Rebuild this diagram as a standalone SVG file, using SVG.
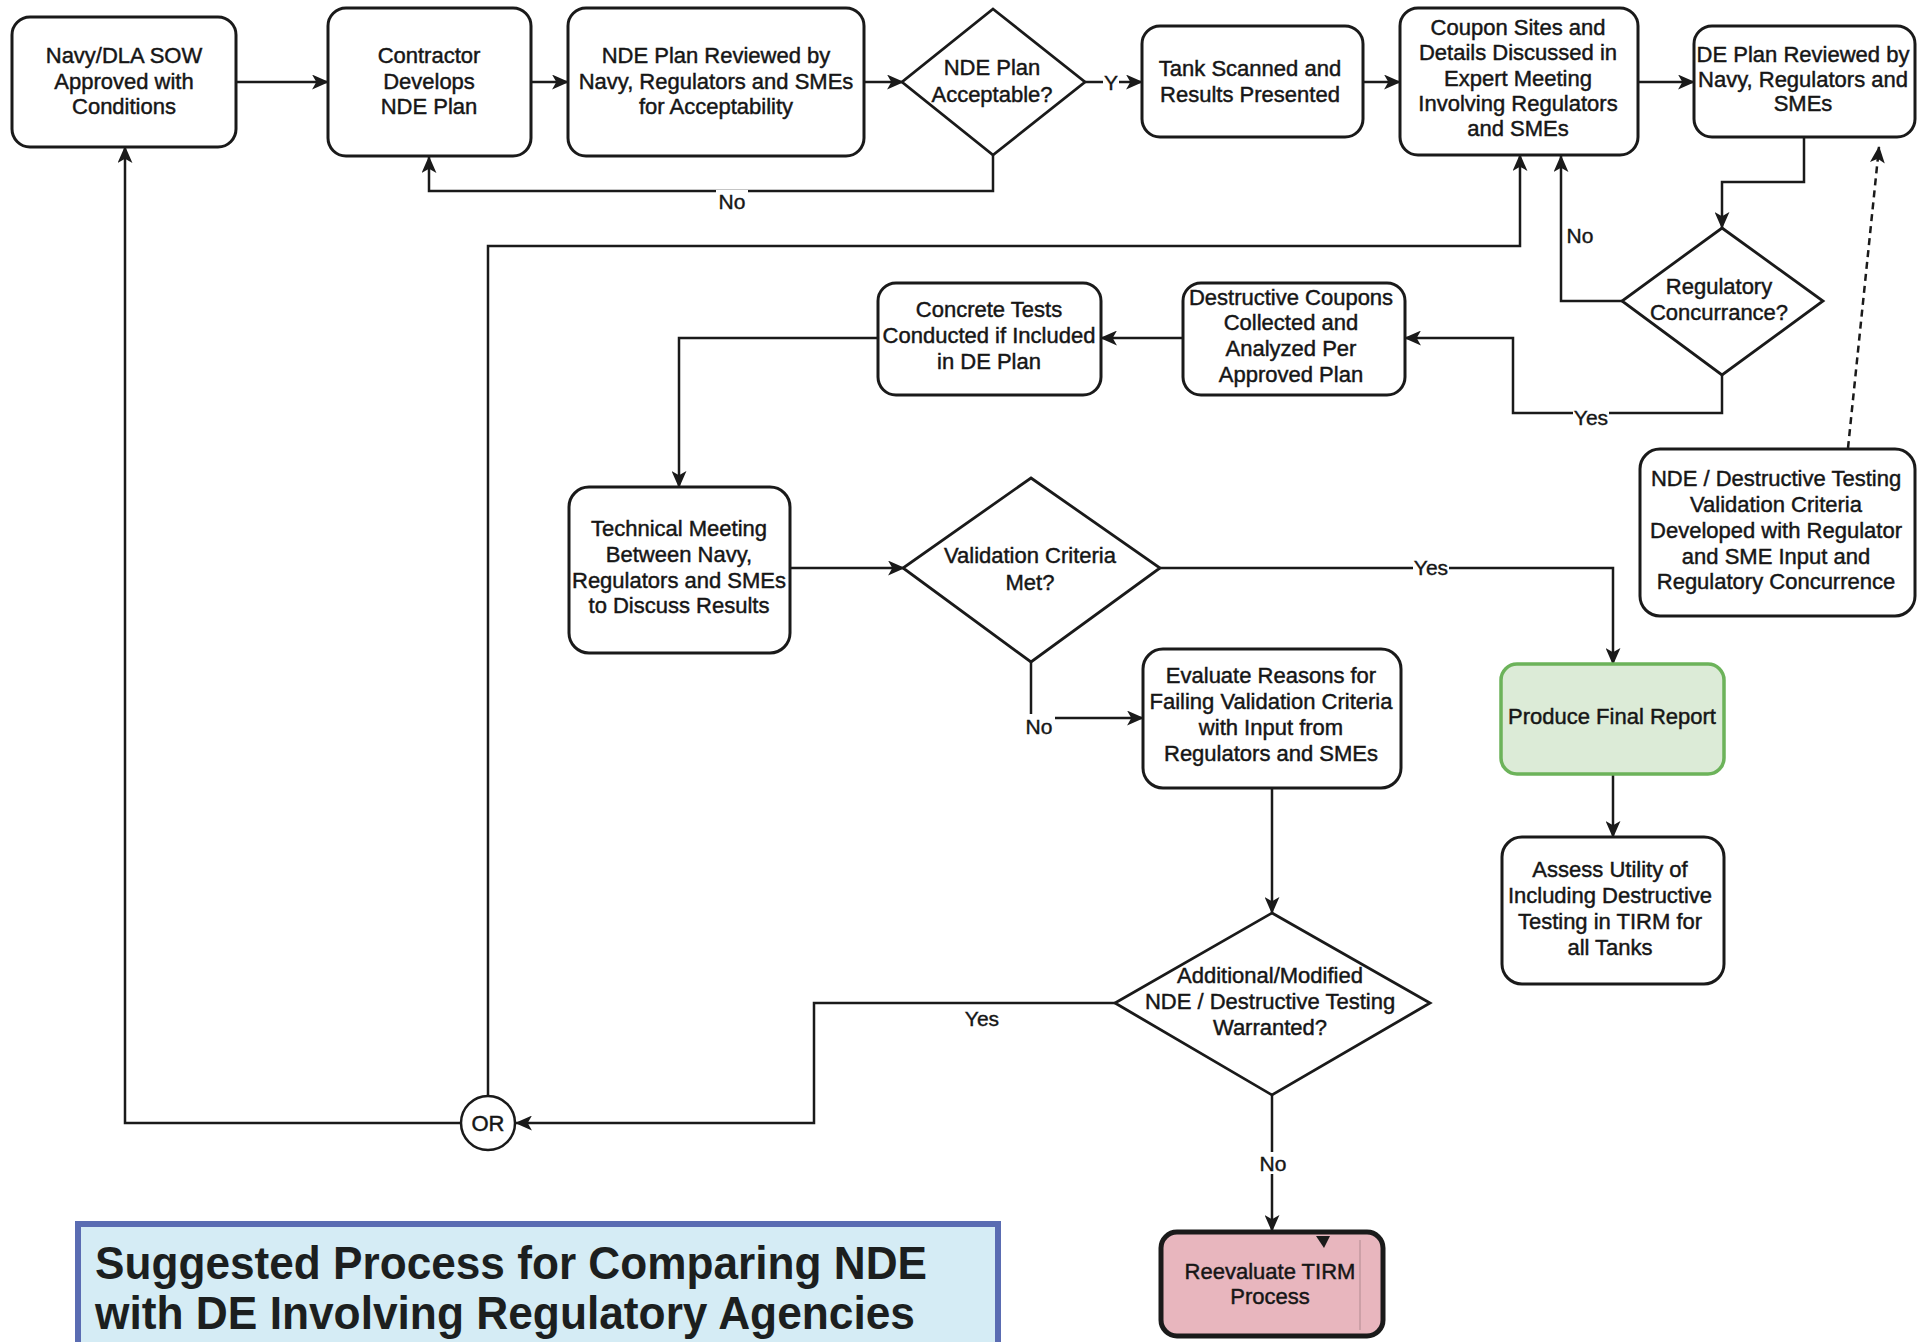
<svg xmlns="http://www.w3.org/2000/svg" width="1925" height="1342" viewBox="0 0 1925 1342">
<defs>
<style>
.box{fill:#fff;stroke:#1a1a1a;stroke-width:3}
.dia{fill:#fff;stroke:#1a1a1a;stroke-width:2.8}
.t{font-family:"Liberation Sans",Arial,Helvetica,sans-serif;font-size:22px;fill:#161616;stroke:#161616;stroke-width:0.45px;text-anchor:middle}
.lbl{font-family:"Liberation Sans",Arial,Helvetica,sans-serif;font-size:21px;fill:#161616;stroke:#161616;stroke-width:0.4px;text-anchor:middle}
.ttl{font-family:"Liberation Sans",Arial,Helvetica,sans-serif;font-size:47px;font-weight:bold;fill:#1c1f1f}
.c{fill:none;stroke:#1a1a1a;stroke-width:2.5}
.bg{fill:#fff}
</style>
<marker id="arr" viewBox="0 0 16 14" refX="15" refY="7" markerWidth="17" markerHeight="15" markerUnits="userSpaceOnUse" orient="auto">
<path d="M0,0 L16,7 L0,14 L4,7 z" fill="#1a1a1a"/>
</marker>
</defs>
<rect width="1925" height="1342" fill="#fff"/>

<g id="connectors">
<path class="c" d="M236,82 H328" marker-end="url(#arr)"/>
<path class="c" d="M531,82 H568" marker-end="url(#arr)"/>
<path class="c" d="M864,82 H903" marker-end="url(#arr)"/>
<path class="c" d="M1085,82 H1142" marker-end="url(#arr)"/>
<path class="c" d="M993,155 V191 H429 V157" marker-end="url(#arr)"/>
<path class="c" d="M1363,82 H1400" marker-end="url(#arr)"/>
<path class="c" d="M1638,82 H1694" marker-end="url(#arr)"/>
<path class="c" d="M1804,137 V182 H1722 V228" marker-end="url(#arr)"/>
<path class="c" d="M1622,301 H1561 V156" marker-end="url(#arr)"/>
<path class="c" d="M1722,375 V413 H1513 V338 H1405" marker-end="url(#arr)"/>
<path class="c" d="M1183,338 H1101" marker-end="url(#arr)"/>
<path class="c" d="M878,338 H679 V487" marker-end="url(#arr)"/>
<path class="c" d="M790,568 H904" marker-end="url(#arr)"/>
<path class="c" d="M1160,568 H1613 V664" marker-end="url(#arr)"/>
<path class="c" d="M1031,662 V718 H1143" marker-end="url(#arr)"/>
<path class="c" d="M1272,788 V913" marker-end="url(#arr)"/>
<path class="c" d="M1613,774 V837" marker-end="url(#arr)"/>
<path class="c" d="M1115,1003 H814 V1123 H516" marker-end="url(#arr)"/>
<path class="c" d="M1272,1095 V1231" marker-end="url(#arr)"/>
<path class="c" d="M461,1123 H125 V147" marker-end="url(#arr)"/>
<path class="c" d="M488,1096 V246 H1520 V155" marker-end="url(#arr)"/>
<path class="c" d="M1848,448 L1879,147" stroke-dasharray="7,5" stroke-width="3" marker-end="url(#arr)"/>
<rect class="bg" x="716" y="190" width="32" height="22"/>
<text class="lbl" x="732" y="209">No</text>
<rect class="bg" x="1103" y="72" width="16" height="20"/>
<text class="lbl" x="1111" y="90">Y</text>
<text class="lbl" x="1580" y="243">No</text>
<rect class="bg" x="1573" y="406" width="36" height="22"/>
<text class="lbl" x="1591" y="425">Yes</text>
<rect class="bg" x="1413" y="557" width="36" height="20"/>
<text class="lbl" x="1431" y="575">Yes</text>
<rect class="bg" x="1023" y="714" width="32" height="24"/>
<text class="lbl" x="1039" y="734">No</text>
<text class="lbl" x="982" y="1026">Yes</text>
<rect class="bg" x="1257" y="1152" width="32" height="22"/>
<text class="lbl" x="1273" y="1171">No</text>
</g>

<g id="n-sow">
<rect class="box" x="12" y="17" width="224" height="130" rx="18" stroke-width="3.5"/>
<text class="t"><tspan x="124" y="63">Navy/DLA SOW</tspan><tspan x="124" y="89">Approved with</tspan><tspan x="124" y="114">Conditions</tspan></text>
</g>
<g id="n-contractor">
<rect class="box" x="328" y="8" width="203" height="148" rx="18"/>
<text class="t"><tspan x="429" y="63">Contractor</tspan><tspan x="429" y="89">Develops</tspan><tspan x="429" y="114">NDE Plan</tspan></text>
</g>
<g id="n-ndereview">
<rect class="box" x="568" y="8" width="296" height="148" rx="18"/>
<text class="t"><tspan x="716" y="63">NDE Plan Reviewed by</tspan><tspan x="716" y="89">Navy, Regulators and SMEs</tspan><tspan x="716" y="114">for Acceptability</tspan></text>
</g>
<g id="n-ndeaccept">
<polygon class="dia" points="993,9 1085,82 993,155 902,82"/>
<text class="t"><tspan x="992" y="75">NDE Plan</tspan><tspan x="992" y="102">Acceptable?</tspan></text>
</g>
<g id="n-tank">
<rect class="box" x="1142" y="26" width="221" height="111" rx="18"/>
<text class="t"><tspan x="1250" y="76">Tank Scanned and</tspan><tspan x="1250" y="102">Results Presented</tspan></text>
</g>
<g id="n-coupon">
<rect class="box" x="1400" y="8" width="238" height="147" rx="18"/>
<text class="t"><tspan x="1518" y="35">Coupon Sites and</tspan><tspan x="1518" y="60">Details Discussed in</tspan><tspan x="1518" y="86">Expert Meeting</tspan><tspan x="1518" y="111">Involving Regulators</tspan><tspan x="1518" y="136">and SMEs</tspan></text>
</g>
<g id="n-dereview">
<rect class="box" x="1694" y="26" width="221" height="111" rx="18"/>
<text class="t"><tspan x="1803" y="62">DE Plan Reviewed by</tspan><tspan x="1803" y="87">Navy, Regulators and</tspan><tspan x="1803" y="111">SMEs</tspan></text>
</g>
<g id="n-regconc">
<polygon class="dia" points="1722,228 1823,301 1722,375 1622,301"/>
<text class="t"><tspan x="1719" y="294">Regulatory</tspan><tspan x="1719" y="320">Concurrance?</tspan></text>
</g>
<g id="n-destcoupons">
<rect class="box" x="1183" y="283" width="222" height="112" rx="18"/>
<text class="t"><tspan x="1291" y="305">Destructive Coupons</tspan><tspan x="1291" y="330">Collected and</tspan><tspan x="1291" y="356">Analyzed Per</tspan><tspan x="1291" y="382">Approved Plan</tspan></text>
</g>
<g id="n-concrete">
<rect class="box" x="878" y="283" width="223" height="112" rx="18"/>
<text class="t"><tspan x="989" y="317">Concrete Tests</tspan><tspan x="989" y="343">Conducted if Included</tspan><tspan x="989" y="369">in DE Plan</tspan></text>
</g>
<g id="n-techmeeting">
<rect class="box" x="569" y="487" width="221" height="166" rx="20"/>
<text class="t"><tspan x="679" y="536">Technical Meeting</tspan><tspan x="679" y="562">Between Navy,</tspan><tspan x="679" y="588">Regulators and SMEs</tspan><tspan x="679" y="613">to Discuss Results</tspan></text>
</g>
<g id="n-valmet">
<polygon class="dia" points="1031,478 1160,568 1031,662 903,568"/>
<text class="t"><tspan x="1030" y="563">Validation Criteria</tspan><tspan x="1030" y="590">Met?</tspan></text>
</g>
<g id="n-valcrit">
<rect class="box" x="1640" y="449" width="275" height="167" rx="20"/>
<text class="t"><tspan x="1776" y="486">NDE / Destructive Testing</tspan><tspan x="1776" y="512">Validation Criteria</tspan><tspan x="1776" y="538">Developed with Regulator</tspan><tspan x="1776" y="564">and SME Input and</tspan><tspan x="1776" y="589">Regulatory Concurrence</tspan></text>
</g>
<g id="n-evaluate">
<rect class="box" x="1143" y="649" width="258" height="139" rx="20"/>
<text class="t"><tspan x="1271" y="683">Evaluate Reasons for</tspan><tspan x="1271" y="709">Failing Validation Criteria</tspan><tspan x="1271" y="735">with Input from</tspan><tspan x="1271" y="761">Regulators and SMEs</tspan></text>
</g>
<g id="n-final">
<rect x="1501" y="664" width="223" height="110" rx="16" fill="#dcebd7" stroke="#6cb35a" stroke-width="3.5"/>
<text class="t"><tspan x="1612" y="724">Produce Final Report</tspan></text>
</g>
<g id="n-assess">
<rect class="box" x="1502" y="837" width="222" height="147" rx="20"/>
<text class="t"><tspan x="1610" y="877">Assess Utility of</tspan><tspan x="1610" y="903">Including Destructive</tspan><tspan x="1610" y="929">Testing in TIRM for</tspan><tspan x="1610" y="955">all Tanks</tspan></text>
</g>
<g id="n-additional">
<polygon class="dia" points="1272,913 1430,1003 1272,1095 1115,1003"/>
<text class="t"><tspan x="1270" y="983">Additional/Modified</tspan><tspan x="1270" y="1009">NDE / Destructive Testing</tspan><tspan x="1270" y="1035">Warranted?</tspan></text>
</g>
<g id="n-or">
<circle cx="488" cy="1123" r="27" fill="#fff" stroke="#1a1a1a" stroke-width="2.5"/>
<text class="t" x="488" y="1131">OR</text>
</g>
<g id="n-reevaluate">
<rect x="1161" y="1232" width="222" height="104" rx="16" fill="#e8b6be" stroke="#1a1a1a" stroke-width="5"/>
<line x1="1360" y1="1240" x2="1360" y2="1330" stroke="#b08a90" stroke-width="1"/>
<path d="M1316,1236 L1330,1236 L1324,1248 z" fill="#1a1a1a"/>
<text class="t"><tspan x="1270" y="1279">Reevaluate TIRM</tspan><tspan x="1270" y="1304">Process</tspan></text>
</g>
<g id="title">
<rect x="78" y="1224" width="920" height="130" fill="#d5ecf5" stroke="#5a6cb2" stroke-width="6"/>
<text class="ttl"><tspan x="95" y="1279" textLength="832" lengthAdjust="spacingAndGlyphs">Suggested Process for Comparing NDE</tspan></text>
<text class="ttl"><tspan x="95" y="1329" textLength="820" lengthAdjust="spacingAndGlyphs">with DE Involving Regulatory Agencies</tspan></text>
</g>
</svg>
